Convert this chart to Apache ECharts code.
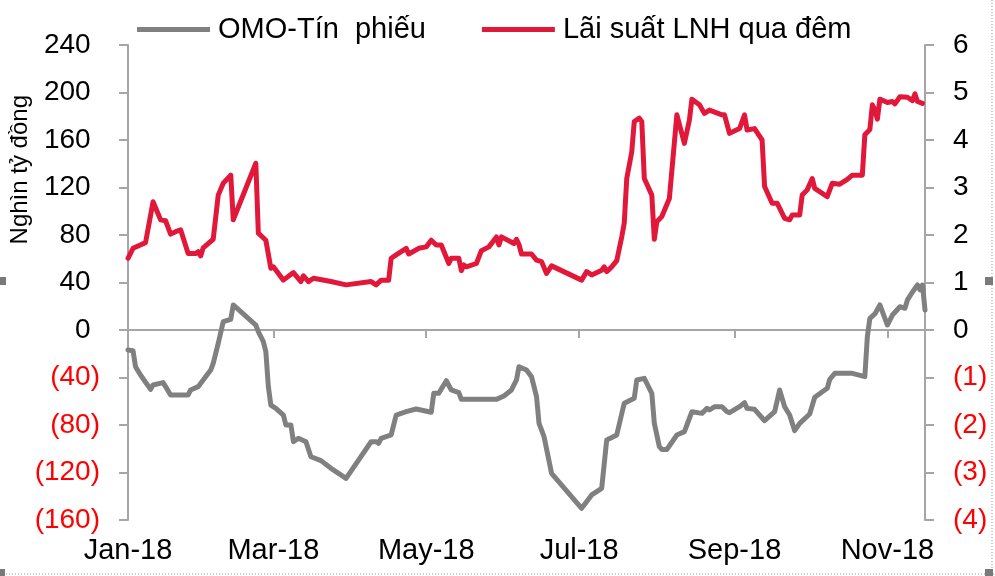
<!DOCTYPE html>
<html>
<head>
<meta charset="utf-8">
<script src="https://cdn.jsdelivr.net/npm/echarts@6/dist/echarts.min.js"></script>
<style>
html,body{margin:0;padding:0;background:#fff;}
#chart{width:995px;height:576px;}
</style>
</head>
<body>
<div id="chart"></div>
<script>
const FONT = '"Liberation Sans", Arial, sans-serif';

const seriesNames = ['OMO-Tín  phiếu', 'Lãi suất LNH qua đêm'];
const yAxisName = 'Nghìn tỷ đồng';
const monthNames = ['Jan','Feb','Mar','Apr','May','Jun','Jul','Aug','Sep','Oct','Nov','Dec'];
const xRange = ['2018-01-02', '2018-11-16'];
const tickDates = ['2018-03-01','2018-05-01','2018-07-01','2018-09-01','2018-11-01'];
const labelDates = ['2018-01-02','2018-03-01','2018-05-01','2018-07-01','2018-09-01','2018-11-01'];
const leftTicks = {min: -160, max: 240, interval: 40};
const rightTicks = {min: -4, max: 6, interval: 1};

const omoDates = ['2018-01-02','2018-01-04','2018-01-05','2018-01-07','2018-01-11','2018-01-12','2018-01-16','2018-01-17','2018-01-19','2018-01-26','2018-01-27','2018-01-30','2018-02-01','2018-02-04','2018-02-05','2018-02-07','2018-02-09','2018-02-11','2018-02-12','2018-02-13','2018-02-16','2018-02-22','2018-02-23','2018-02-25','2018-02-26','2018-02-27','2018-02-28','2018-03-02','2018-03-05','2018-03-06','2018-03-08','2018-03-09','2018-03-11','2018-03-14','2018-03-16','2018-03-20','2018-03-24','2018-03-30','2018-04-09','2018-04-11','2018-04-12','2018-04-13','2018-04-17','2018-04-19','2018-04-23','2018-04-27','2018-05-03','2018-05-04','2018-05-06','2018-05-09','2018-05-11','2018-05-14','2018-05-15','2018-05-29','2018-06-01','2018-06-04','2018-06-06','2018-06-07','2018-06-10','2018-06-12','2018-06-14','2018-06-15','2018-06-17','2018-06-20','2018-07-02','2018-07-06','2018-07-10','2018-07-12','2018-07-16','2018-07-19','2018-07-23','2018-07-24','2018-07-27','2018-07-30','2018-07-31','2018-08-02','2018-08-03','2018-08-05','2018-08-09','2018-08-12','2018-08-13','2018-08-15','2018-08-19','2018-08-21','2018-08-22','2018-08-24','2018-08-27','2018-08-29','2018-08-30','2018-09-03','2018-09-05','2018-09-06','2018-09-09','2018-09-13','2018-09-17','2018-09-19','2018-09-21','2018-09-23','2018-09-25','2018-09-27','2018-10-01','2018-10-03','2018-10-08','2018-10-09','2018-10-11','2018-10-18','2018-10-23','2018-10-24','2018-10-25','2018-10-27','2018-10-29','2018-11-01','2018-11-03','2018-11-06','2018-11-08','2018-11-09','2018-11-11','2018-11-13','2018-11-14','2018-11-15','2018-11-16'];
const omoValues = [-16.8,-17.4,-30.9,-37.9,-50.0,-46.3,-44.3,-47.7,-54.7,-54.7,-50.5,-47.7,-42.1,-33.7,-28.1,-11.2,7.0,8.4,9.0,21.1,15.4,4.2,-1.4,-9.8,-18.2,-47.7,-63.2,-66.0,-71.6,-80.0,-80.0,-94.1,-91.2,-94.1,-106.7,-110.0,-116.5,-124.9,-94.1,-94.1,-95.4,-91.2,-88.4,-71.6,-68.8,-66.5,-69.3,-53.3,-53.3,-42.7,-50.5,-52.8,-58.4,-58.4,-55.6,-50.5,-42.1,-30.9,-33.7,-39.3,-56.1,-78.6,-89.8,-120.7,-150.2,-138.9,-133.3,-92.6,-88.4,-61.7,-57.5,-42.1,-40.7,-53.3,-78.6,-98.2,-100.6,-100.6,-88.4,-85.6,-80.0,-68.8,-70.2,-66.0,-67.4,-64.6,-64.6,-68.8,-69.6,-64.6,-61.2,-66.0,-66.8,-76.4,-68.8,-50.5,-64.6,-71.6,-84.8,-78.6,-70.7,-56.7,-49.1,-41.5,-36.5,-36.5,-39.3,-5.6,9.8,13.5,21.1,4.2,12.6,19.6,18.3,25.3,32.0,37.9,33.7,37.9,16.8];

const rateDates = ['2018-01-02','2018-01-04','2018-01-06','2018-01-09','2018-01-12','2018-01-15','2018-01-17','2018-01-19','2018-01-21','2018-01-23','2018-01-26','2018-01-29','2018-01-30','2018-01-31','2018-02-01','2018-02-05','2018-02-07','2018-02-09','2018-02-12','2018-02-13','2018-02-22','2018-02-23','2018-02-26','2018-02-28','2018-03-01','2018-03-05','2018-03-09','2018-03-12','2018-03-13','2018-03-15','2018-03-17','2018-03-24','2018-03-30','2018-04-09','2018-04-11','2018-04-13','2018-04-16','2018-04-17','2018-04-19','2018-04-23','2018-04-24','2018-04-28','2018-05-01','2018-05-03','2018-05-05','2018-05-07','2018-05-10','2018-05-11','2018-05-14','2018-05-15','2018-05-16','2018-05-17','2018-05-21','2018-05-23','2018-05-26','2018-05-29','2018-05-30','2018-05-31','2018-06-05','2018-06-06','2018-06-07','2018-06-08','2018-06-12','2018-06-14','2018-06-16','2018-06-18','2018-06-20','2018-07-02','2018-07-04','2018-07-06','2018-07-10','2018-07-11','2018-07-12','2018-07-14','2018-07-16','2018-07-18','2018-07-19','2018-07-20','2018-07-22','2018-07-23','2018-07-25','2018-07-26','2018-07-27','2018-07-30','2018-07-31','2018-08-01','2018-08-03','2018-08-06','2018-08-09','2018-08-12','2018-08-14','2018-08-15','2018-08-18','2018-08-20','2018-08-22','2018-08-27','2018-08-28','2018-08-30','2018-09-03','2018-09-05','2018-09-06','2018-09-09','2018-09-12','2018-09-13','2018-09-16','2018-09-18','2018-09-21','2018-09-23','2018-09-24','2018-09-27','2018-09-28','2018-09-30','2018-10-02','2018-10-03','2018-10-08','2018-10-10','2018-10-13','2018-10-16','2018-10-18','2018-10-22','2018-10-23','2018-10-25','2018-10-26','2018-10-27','2018-10-28','2018-10-29','2018-11-01','2018-11-03','2018-11-04','2018-11-06','2018-11-09','2018-11-11','2018-11-12','2018-11-13','2018-11-15'];
const rateValues = [1.51,1.72,1.77,1.84,2.70,2.32,2.30,2.02,2.07,2.11,1.61,1.61,1.65,1.56,1.73,1.91,2.84,3.09,3.26,2.32,3.51,2.04,1.89,1.30,1.33,1.05,1.21,1.02,1.14,1.02,1.09,1.02,0.95,1.02,0.95,1.05,1.05,1.51,1.58,1.72,1.60,1.72,1.75,1.89,1.79,1.79,1.40,1.51,1.51,1.25,1.37,1.33,1.40,1.67,1.75,1.96,1.79,1.96,1.82,1.91,1.80,1.60,1.60,1.47,1.44,1.19,1.35,1.05,1.23,1.16,1.26,1.33,1.23,1.33,1.46,1.96,2.25,3.19,3.75,4.39,4.46,4.39,3.19,2.84,1.91,2.28,2.39,2.77,4.53,3.93,4.42,4.86,4.74,4.56,4.63,4.53,4.53,4.14,4.24,4.53,4.21,4.24,4.00,3.02,2.67,2.67,2.35,2.32,2.42,2.42,2.84,2.95,3.19,2.98,2.81,3.09,3.07,3.17,3.26,3.26,4.11,4.22,4.74,4.63,4.44,4.86,4.79,4.81,4.76,4.91,4.90,4.83,4.97,4.81,4.77];

const GRAY = '#808080';
const RED = '#E2183A';
const AXIS = '#A6A6A6';
const NEG = '#FF0000';

const P = s => echarts.time.parse(s).getTime();
const zip = (ds, vs) => ds.map((d, i) => [P(d), vs[i]]);
const fmtDate = v => { const d = new Date(v); return monthNames[d.getMonth()] + '-' + String(d.getFullYear()).slice(2); };

const chart = echarts.init(document.getElementById('chart'), null, {renderer: 'canvas'});

const leftLabel = v => v < 0 ? '{n|(' + (-v) + ')}' : v + '{h|)}';
const rightLabel = v => v < 0 ? '{n|(' + (-v) + ')}' : String(v);
const richStyle = {
  n: {color: NEG, fontSize: 28, fontFamily: FONT},
  h: {color: 'rgba(0,0,0,0)', fontSize: 28, fontFamily: FONT}
};

const xMin = P(xRange[0]), xMax = P(xRange[1]);

chart.setOption({
  animation: false,
  backgroundColor: '#fff',
  textStyle: {fontFamily: FONT},
  grid: {left: 128, right: 70, top: 45, bottom: 56, containLabel: false},
  legend: {
    left: 132, top: 10,
    itemWidth: 73, itemHeight: 5, itemGap: 56,
    icon: 'rect',
    textStyle: {fontSize: 29, fontFamily: FONT, color: '#000', padding: [0, 0, 0, 3]},
    data: seriesNames
  },
  xAxis: [
    {
      type: 'value', min: xMin, max: xMax, position: 'bottom',
      axisLine: {show: true, onZero: true, lineStyle: {color: AXIS, width: 2}},
      axisTick: {show: true, customValues: tickDates.map(P), length: 8, inside: false, lineStyle: {color: AXIS, width: 2}},
      axisLabel: {show: false},
      splitLine: {show: false}
    },
    {
      type: 'value', min: xMin, max: xMax, position: 'bottom',
      axisLine: {show: false, onZero: false},
      axisTick: {show: false},
      axisLabel: {show: true, customValues: labelDates.map(P), formatter: fmtDate, fontSize: 29, fontFamily: FONT, color: '#000', margin: 16, hideOverlap: false},
      splitLine: {show: false}
    }
  ],
  yAxis: [
    {
      type: 'value', position: 'left', min: leftTicks.min, max: leftTicks.max, interval: leftTicks.interval,
      axisLine: {show: true, lineStyle: {color: AXIS, width: 2}},
      axisTick: {show: true, length: 9, lineStyle: {color: AXIS, width: 2}},
      axisLabel: {formatter: leftLabel, fontSize: 28, fontFamily: FONT, color: '#000', margin: 28, rich: richStyle},
      splitLine: {show: false}
    },
    {
      type: 'value', position: 'right', min: rightTicks.min, max: rightTicks.max, interval: rightTicks.interval,
      axisLine: {show: true, lineStyle: {color: AXIS, width: 2}},
      axisTick: {show: true, length: 9, lineStyle: {color: AXIS, width: 2}},
      axisLabel: {formatter: rightLabel, fontSize: 28, fontFamily: FONT, color: '#000', margin: 28, rich: richStyle},
      splitLine: {show: false}
    }
  ],
  series: [
    {
      name: seriesNames[0], type: 'line', xAxisIndex: 0, yAxisIndex: 0,
      data: zip(omoDates, omoValues), showSymbol: false, symbol: 'none',
      lineStyle: {color: GRAY, width: 5, join: 'round', cap: 'round'}, itemStyle: {color: GRAY}
    },
    {
      name: seriesNames[1], type: 'line', xAxisIndex: 0, yAxisIndex: 1,
      data: zip(rateDates, rateValues), showSymbol: false, symbol: 'none',
      lineStyle: {color: RED, width: 5, join: 'round', cap: 'round'}, itemStyle: {color: RED}
    }
  ],
  graphic: [
    {type: 'text', left: 8, top: 95, rotation: Math.PI / 2,
     style: {text: yAxisName, fontSize: 24, fontFamily: FONT, fill: '#000'}},
    {type: 'line', shape: {x1: 992, y1: 0, x2: 992, y2: 576}, style: {stroke: '#9a9a9a', lineWidth: 1, lineDash: [1, 2]}},
    {type: 'line', shape: {x1: 0, y1: 574, x2: 995, y2: 574}, style: {stroke: '#9a9a9a', lineWidth: 1, lineDash: [1, 2]}},
    {type: 'rect', shape: {x: 0, y: 277, width: 6, height: 8}, style: {fill: '#7a7a7a'}},
    {type: 'rect', shape: {x: 985, y: 277, width: 8, height: 8}, style: {fill: '#7a7a7a'}},
    {type: 'rect', shape: {x: 0, y: 569, width: 5, height: 7}, style: {fill: '#7a7a7a'}},
    {type: 'rect', shape: {x: 985, y: 569, width: 8, height: 7}, style: {fill: '#7a7a7a'}}
  ]
});
</script>
</body>
</html>
